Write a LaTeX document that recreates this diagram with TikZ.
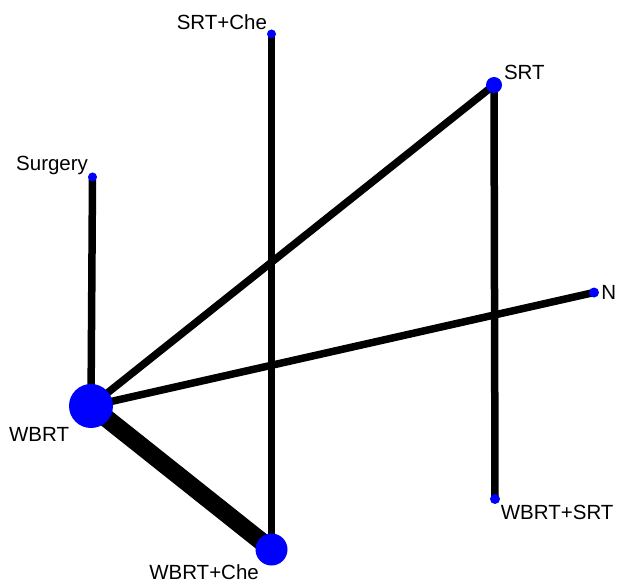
\documentclass[tikz,border=0pt]{standalone}
\usepackage{fontspec}
\setmainfont{Liberation Sans}
\usetikzlibrary{backgrounds}

\begin{document}
\begin{tikzpicture}[x=1pt,y=1pt,font=\fontsize{20.5}{23}\selectfont,
  trt node/.style={circle,fill=blue,inner sep=0pt},
  link/.style={line width=7.5pt},
  label distance=0pt]

  \useasboundingbox (0,0) rectangle (618,582);

  \node[trt node,minimum size=9pt,label={[anchor=south east,inner sep=1pt]north west:SRT+Che}] (srtche) at (271.5,548) {};
  \node[trt node,minimum size=16pt,label={[anchor=south west,inner sep=2pt,yshift=-3pt,xshift=2pt]north east:SRT}] (srt) at (494,497) {};
  \node[trt node,minimum size=9pt,label={[anchor=south east,inner sep=1pt,yshift=-2pt]north west:Surgery}] (surgery) at (92.5,405) {};
  \node[trt node,minimum size=10pt,label={[anchor=west,inner sep=2pt]east:N}] (n) at (594,289.5) {};
  \node[trt node,minimum size=44pt,label={[anchor=north east,inner sep=0pt,xshift=-6pt,yshift=-5pt]south west:WBRT}] (wbrt) at (91,176) {};
  \node[trt node,minimum size=32pt,label={[anchor=north east,inner sep=1pt,yshift=-2pt]south west:WBRT+Che}] (wbrtche) at (271.5,32.5) {};
  \node[trt node,minimum size=10pt,label={[anchor=north west,inner sep=2pt]south east:WBRT+SRT}] (wbrtsrt) at (495,83) {};

  % comparisons, kept under the dots
  \begin{pgfonlayer}{background}
    \draw[link] (srtche.center) -- (wbrtche.center);
    \draw[link] (srt.center) -- (wbrt.center);
    \draw[link] (srt.center) -- (wbrtsrt.center);
    \draw[link] (surgery.center) -- (wbrt.center);
    \draw[link] (n.center) -- (wbrt.center);
    \draw[line width=18pt] (wbrt.center) -- (wbrtche.center);
  \end{pgfonlayer}
\end{tikzpicture}
\end{document}
